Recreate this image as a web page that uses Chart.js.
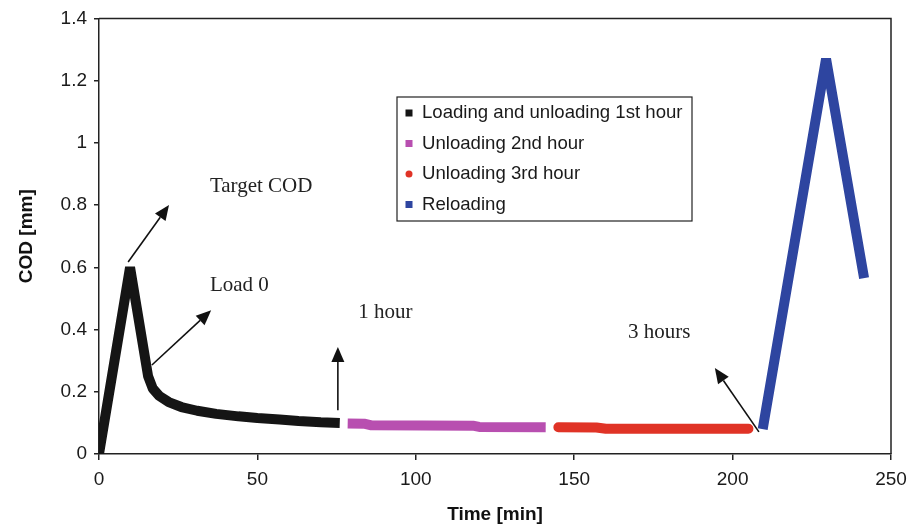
<!DOCTYPE html>
<html>
<head>
<meta charset="utf-8">
<script src="https://cdn.jsdelivr.net/npm/chart.js@4"></script>
<style>
  html, body { margin: 0; padding: 0; background: #fff; }
  #wrap { width: 910px; height: 529px; }
</style>
</head>
<body>
<div id="wrap"><canvas id="grafico"></canvas></div>
<script>
// Datos: tiempo [min] y COD [mm] de cada tramo
const tiempo1 = [0, 9.8, 15.5, 17, 19, 22, 26, 31, 37, 44, 50, 57, 63, 70, 76];
const cod1    = [0, 0.60, 0.25, 0.21, 0.187, 0.167, 0.151, 0.139, 0.129, 0.121, 0.116, 0.111, 0.106, 0.102, 0.100];

const tiempo2 = [78.5, 84, 86, 118, 120, 141];
const cod2    = [0.098, 0.097, 0.092, 0.091, 0.087, 0.086];

const tiempo3 = [145, 157, 160, 205];
const cod3    = [0.086, 0.085, 0.081, 0.081];

const tiempo4 = [209.5, 229.5, 241.5];
const cod4    = [0.080, 1.27, 0.565];

const etiquetas = ['Loading and unloading 1st hour', 'Unloading 2nd hour', 'Unloading 3rd hour', 'Reloading'];
const colores   = ['#151515', '#b84fb0', '#e03326', '#2e45a0'];
const marcadores = ['rect', 'rect', 'circle', 'rect'];

const ticksX = [0, 50, 100, 150, 200, 250];
const ticksY = [0, 0.2, 0.4, 0.6, 0.8, 1, 1.2, 1.4];

// Flechas con texto (en unidades de los ejes)
const notas = [
    { texto: 'Target COD', tx: 35,   ty: 0.86,  desde: [9.2, 0.617],  hasta: [22.1, 0.80] },
    { texto: 'Load 0',     tx: 35,   ty: 0.54,  desde: [16.7, 0.286], hasta: [35.4, 0.462] },
    { texto: '1 hour',     tx: 81.8, ty: 0.456, desde: [75.4, 0.141], hasta: [75.4, 0.344] },
    { texto: '3 hours',    tx: 167,  ty: 0.389, desde: [208.3, 0.071], hasta: [194.4, 0.276] }
];

const puntos = (xs, ys) => xs.map((x, i) => ({ x: x, y: ys[i] }));
const series = [puntos(tiempo1, cod1), puntos(tiempo2, cod2), puntos(tiempo3, cod3), puntos(tiempo4, cod4)];

const SANS = "'Liberation Sans', Arial, sans-serif";
const SERIF = "'Liberation Serif', 'Times New Roman', serif";

// Marco superior/derecho, flechas y leyenda dentro del área
const extras = {
    id: 'extras',
    afterDraw(chart) {
        const { ctx, chartArea: a, scales } = chart;
        const sx = scales.x, sy = scales.y;
        ctx.save();
        ctx.strokeStyle = '#222';
        ctx.lineWidth = 1.5;
        ctx.beginPath();
        ctx.moveTo(a.left, a.top);
        ctx.lineTo(a.right, a.top);
        ctx.lineTo(a.right, a.bottom);
        ctx.stroke();

        // flechas
        notas.forEach(n => {
            const x0 = sx.getPixelForValue(n.desde[0]), y0 = sy.getPixelForValue(n.desde[1]);
            const x1 = sx.getPixelForValue(n.hasta[0]), y1 = sy.getPixelForValue(n.hasta[1]);
            const ang = Math.atan2(y1 - y0, x1 - x0);
            const largo = 15, ancho = 6.5;
            const bx = x1 - largo * Math.cos(ang), by = y1 - largo * Math.sin(ang);
            ctx.strokeStyle = '#111';
            ctx.fillStyle = '#111';
            ctx.lineWidth = 1.6;
            ctx.beginPath();
            ctx.moveTo(x0, y0);
            ctx.lineTo(bx, by);
            ctx.stroke();
            ctx.beginPath();
            ctx.moveTo(x1, y1);
            ctx.lineTo(bx + ancho * Math.sin(ang), by - ancho * Math.cos(ang));
            ctx.lineTo(bx - ancho * Math.sin(ang), by + ancho * Math.cos(ang));
            ctx.closePath();
            ctx.fill();

            ctx.font = '21px ' + SERIF;
            ctx.textBaseline = 'middle';
            ctx.textAlign = 'left';
            ctx.fillStyle = '#222';
            ctx.fillText(n.texto, sx.getPixelForValue(n.tx), sy.getPixelForValue(n.ty));
        });

        // leyenda
        const lx = 397, ly = 97, lw = 295, lh = 124;
        ctx.fillStyle = '#fff';
        ctx.fillRect(lx, ly, lw, lh);
        ctx.strokeStyle = '#222';
        ctx.lineWidth = 1.2;
        ctx.strokeRect(lx, ly, lw, lh);
        ctx.font = '18.6px ' + SANS;
        ctx.textBaseline = 'middle';
        ctx.textAlign = 'left';
        etiquetas.forEach((et, i) => {
            const cy = ly + 16 + i * 30.5;
            ctx.fillStyle = colores[i];
            if (marcadores[i] === 'circle') {
                ctx.beginPath();
                ctx.arc(lx + 12, cy, 3.5, 0, Math.PI * 2);
                ctx.fill();
            } else {
                ctx.fillRect(lx + 8.5, cy - 3.5, 7, 7);
            }
            ctx.fillStyle = '#1a1a1a';
            ctx.fillText(et, lx + 25, cy);
        });
        ctx.restore();
    }
};

new Chart(document.getElementById('grafico').getContext('2d'), {
    type: 'scatter',
    data: {
        datasets: series.map((datos, i) => ({
            label: etiquetas[i],
            data: datos,
            showLine: true,
            borderColor: colores[i],
            backgroundColor: colores[i],
            borderWidth: 10,
            borderCapStyle: marcadores[i] === 'circle' ? 'round' : 'butt',
            borderJoinStyle: 'bevel',
            pointRadius: 0,
            tension: 0
        }))
    },
    options: {
        responsive: true,
        maintainAspectRatio: false,
        animation: false,
        layout: { padding: { top: 18, right: 0, left: 0, bottom: 0 } },
        plugins: {
            legend: { display: false },
            tooltip: { enabled: false }
        },
        scales: {
            x: {
                type: 'linear',
                min: 0, max: 250,
                afterBuildTicks: s => { s.ticks = ticksX.map(v => ({ value: v })); },
                afterFit: s => { s.height = 75; s.paddingRight = 19; },
                grid: { drawOnChartArea: false, drawTicks: true, tickLength: 6, color: '#222', lineWidth: 1.5 },
                border: { color: '#222', width: 1.5 },
                ticks: { color: '#1a1a1a', font: { family: SANS, size: 19 }, padding: 8, maxRotation: 0 },
                title: { display: true, text: 'Time [min]', color: '#111', font: { family: SANS, size: 19, weight: 'bold' }, padding: { top: 4, bottom: 3 } }
            },
            y: {
                type: 'linear',
                min: 0, max: 1.4,
                afterBuildTicks: s => { s.ticks = ticksY.map(v => ({ value: v })); },
                afterFit: s => { s.width = 99; },
                grid: { drawOnChartArea: false, drawTicks: true, tickLength: 5, color: '#222', lineWidth: 1.5 },
                border: { color: '#222', width: 1.5 },
                ticks: { color: '#1a1a1a', font: { family: SANS, size: 19 }, padding: 7, callback: v => String(v) },
                title: { display: true, text: 'COD [mm]', color: '#111', font: { family: SANS, size: 19, weight: 'bold' }, padding: { top: 15, bottom: 4 } }
            }
        }
    },
    plugins: [extras]
});
</script>
</body>
</html>
